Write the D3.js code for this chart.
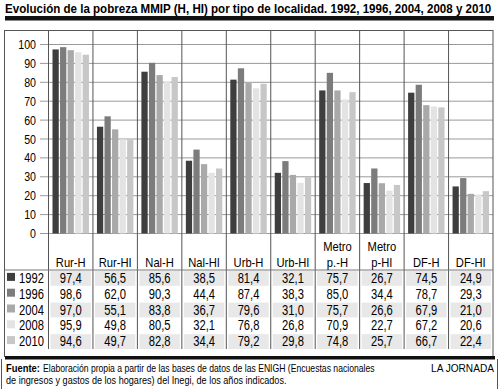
<!DOCTYPE html>
<html>
<head>
<meta charset="utf-8">
<script src="https://cdn.jsdelivr.net/npm/d3@7"></script>
<style>
  body { margin: 0; background: #fff; }
  svg text { font-family: "Liberation Sans", Arial, sans-serif; }
</style>
</head>
<body>
<script>
const titleText = 'Evolución de la pobreza MMIP (H, HI) por tipo de localidad. 1992, 1996, 2004, 2008 y 2010';
const categories = ['Rur-H', 'Rur-HI', 'Nal-H', 'Nal-HI', 'Urb-H', 'Urb-HI', 'Metro p.-H', 'Metro p-HI', 'DF-H', 'DF-HI'];
const headerLines = [['Rur-H'], ['Rur-HI'], ['Nal-H'], ['Nal-HI'], ['Urb-H'], ['Urb-HI'], ['Metro', 'p.-H'], ['Metro', 'p-HI'], ['DF-H'], ['DF-HI']];
const years = ['1992', '1996', '2004', '2008', '2010'];
const v1992 = [97.4, 56.5, 85.6, 38.5, 81.4, 32.1, 75.7, 26.7, 74.5, 24.9];
const v1996 = [98.6, 62.0, 90.3, 44.4, 87.4, 38.3, 85.0, 34.4, 78.7, 29.3];
const v2004 = [97.0, 55.1, 83.8, 36.7, 79.6, 31.0, 75.7, 26.6, 67.9, 21.0];
const v2008 = [95.9, 49.8, 80.5, 32.1, 76.8, 26.8, 70.9, 22.7, 67.2, 20.6];
const v2010 = [94.6, 49.7, 82.8, 34.4, 79.2, 29.8, 74.8, 25.7, 66.7, 22.4];
const yTicks = [0, 10, 20, 30, 40, 50, 60, 70, 80, 90, 100];
const sourceLine1 = 'Elaboración propia a partir de las bases de datos de las ENIGH (Encuestas nacionales';
const sourceLine2 = 'de ingresos y gastos de los hogares) del Inegi, de los años indicados.';

const series = [v1992, v1996, v2004, v2008, v2010];
const colors = ['#3e3e3e', '#7c7c7c', '#a9a9a9', '#e3e3e3', '#c7c7c7'];

const width = 500, height = 389;
const left = 48.5, right = 493;
const rowTop = 270, rowH = 15.8;

const fmt = d3.formatLocale({decimal: ',', thousands: '.', grouping: [3], currency: ['', '']}).format('.1f');

// squeeze text horizontally to look like the condensed newspaper face
function condense(sel, k) {
  sel.each(function() {
    const w = this.getComputedTextLength();
    d3.select(this).attr('textLength', w * k).attr('lengthAdjust', 'spacingAndGlyphs');
  });
}

// fit a left-anchored text into a given width by scaling it
function fitWidth(sel, x0, y0, w) {
  sel.each(function() {
    const nat = this.getComputedTextLength();
    d3.select(this).attr('x', 0).attr('y', 0)
      .attr('transform', `translate(${x0},${y0}) scale(${w / nat},1)`);
  });
}

const svg = d3.select('body').append('svg')
  .attr('width', width)
  .attr('height', height);

// title + thick rule
svg.append('text')
  .style('font-size', '12.5px').style('font-weight', 'bold')
  .text(titleText)
  .call(fitWidth, 5, 13, 487);
svg.append('rect').attr('x', 5).attr('y', 16).attr('width', 489).attr('height', 4.5).attr('fill', '#111');

const x = d3.scaleBand().domain(categories).range([left, right]);
const xIn = d3.scaleBand().domain(years).range([4, x.bandwidth() - 4]).paddingInner(0.17);
const y = d3.scaleLinear().domain([0, 100]).range([233.5, 44.5]);

// shaded cells of the table
years.forEach((yr, r) => {
  if (r % 2 === 0) {
    svg.append('g').selectAll('rect')
      .data(categories)
      .join('rect')
      .attr('x', d => x(d) + 2)
      .attr('y', rowTop + r * rowH + 1)
      .attr('width', x.bandwidth() - 4)
      .attr('height', rowH - 1)
      .attr('fill', '#e8e8e8');
  }
});

// gridlines
svg.append('g').selectAll('line')
  .data(yTicks)
  .join('line')
  .attr('x1', 40).attr('x2', right)
  .attr('y1', d => y(d)).attr('y2', d => y(d))
  .attr('stroke', '#9a9a9a').attr('stroke-width', 1);

// y labels
svg.append('g').selectAll('text')
  .data(yTicks)
  .join('text')
  .attr('x', 36).attr('y', d => y(d) + 4.5)
  .attr('text-anchor', 'end')
  .style('font-size', '12.5px')
  .text(d => d)
  .call(condense, 0.85);

// bars
const groups = svg.append('g').selectAll('g')
  .data(categories)
  .join('g')
  .attr('transform', d => `translate(${x(d)},0)`);

groups.selectAll('rect')
  .data((d, i) => years.map((yr, j) => ({year: yr, value: series[j][i], color: colors[j]})))
  .join('rect')
  .attr('x', d => xIn(d.year))
  .attr('width', xIn.bandwidth())
  .attr('y', d => y(d.value))
  .attr('height', d => y(0) - y(d.value))
  .attr('fill', d => d.color);

// column separators
svg.append('g').selectAll('line')
  .data(categories)
  .join('line')
  .attr('x1', d => x(d)).attr('x2', d => x(d))
  .attr('y1', 30).attr('y2', 349)
  .attr('stroke', '#555').attr('stroke-width', 1);

// frame
svg.append('rect').attr('x', 4.5).attr('y', 30.5).attr('width', right - 4.5).attr('height', 326)
  .attr('fill', 'none').attr('stroke', '#555').attr('stroke-width', 1);
svg.append('line').attr('x1', 4.5).attr('x2', right).attr('y1', rowTop).attr('y2', rowTop)
  .attr('stroke', '#777');

// header labels, one text per line
const headerData = [];
categories.forEach((c, i) => {
  const lines = headerLines[i];
  lines.forEach((l, k) => headerData.push({cat: c, text: l, y: 267 - (lines.length - 1 - k) * 16}));
});
svg.append('g').selectAll('text')
  .data(headerData)
  .join('text')
  .attr('x', d => x(d.cat) + x.bandwidth() / 2)
  .attr('y', d => d.y)
  .attr('text-anchor', 'middle')
  .style('font-size', '13px')
  .text(d => d.text)
  .call(condense, 0.86);

// table rows
years.forEach((yr, r) => {
  const cy = rowTop + r * rowH + rowH / 2 + 5;
  svg.append('rect')
    .attr('x', 7).attr('y', cy - 10)
    .attr('width', 8).attr('height', 8)
    .attr('fill', colors[r]);
  svg.append('text')
    .attr('x', 44).attr('y', cy)
    .attr('text-anchor', 'end')
    .style('font-size', '14px')
    .text(yr)
    .call(condense, 0.8);
  svg.append('g').selectAll('text')
    .data(series[r])
    .join('text')
    .attr('x', (d, i) => x(categories[i]) + x.bandwidth() / 2)
    .attr('y', cy)
    .attr('text-anchor', 'middle')
    .style('font-size', '14px')
    .text(d => fmt(d))
    .call(condense, 0.8);
});

// bottom rule + footer
svg.append('rect').attr('x', 5).attr('y', 356).attr('width', 490).attr('height', 3.5).attr('fill', '#111');
svg.append('line').attr('x1', 1.5).attr('x2', 1.5).attr('y1', 359).attr('y2', 389).attr('stroke', '#555');
svg.append('line').attr('x1', 497.5).attr('x2', 497.5).attr('y1', 359).attr('y2', 389).attr('stroke', '#555');

svg.append('text')
  .style('font-size', '10px').style('font-weight', 'bold')
  .text('Fuente:')
  .call(fitWidth, 6, 372, 34);
svg.append('text')
  .style('font-size', '10px')
  .text(sourceLine1)
  .call(fitWidth, 43, 372, 332);
svg.append('text')
  .style('font-size', '10px')
  .text(sourceLine2)
  .call(fitWidth, 6, 384, 281);
svg.append('text').attr('x', 494).attr('y', 372)
  .attr('text-anchor', 'end')
  .style('font-size', '11px')
  .text('LA JORNADA')
  .call(condense, 0.92);
</script>
</body>
</html>
